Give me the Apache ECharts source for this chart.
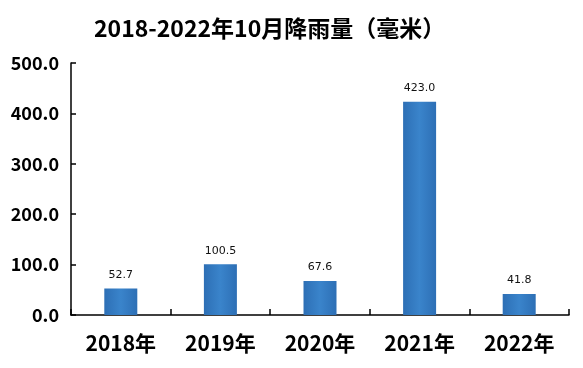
<!DOCTYPE html>
<html>
<head>
<meta charset="utf-8">
<script src="https://cdn.jsdelivr.net/npm/echarts@6/dist/echarts.min.js"></script>
<style>html,body{margin:0;padding:0;background:#fff}#c{width:583px;height:368px}</style>
</head>
<body>
<div id="c"></div>
<script>
const titleText = '2018-2022年10月降雨量（毫米）';
const categories = ['2018年', '2019年', '2020年', '2021年', '2022年'];
const rainfall = [52.7, 100.5, 67.6, 423.0, 41.8];
const yTicks = [0, 100, 200, 300, 400, 500];

const chart = echarts.init(document.getElementById('c'), null, {renderer: 'canvas'});
chart.setOption({
  animation: false,
  backgroundColor: '#ffffff',
  title: {
    text: titleText,
    left: 89,
    top: 12,
    textStyle: {
      fontFamily: 'Noto Sans CJK SC',
      fontWeight: 'bold',
      fontSize: 23,
      color: '#000000'
    }
  },
  grid: {left: 71, right: 14, top: 63, bottom: 53, containLabel: false},
  xAxis: {
    type: 'category',
    data: categories,
    axisLine: {show: true, lineStyle: {color: '#000000', width: 1.5}},
    axisTick: {show: true, inside: true, length: 6, alignWithLabel: false, lineStyle: {color: '#000000', width: 1.5}},
    axisLabel: {
      margin: 18,
      fontFamily: 'Noto Sans CJK SC',
      fontWeight: 'bold',
      fontSize: 21,
      color: '#000000'
    },
    splitLine: {show: false}
  },
  yAxis: {
    type: 'value',
    min: yTicks[0],
    max: yTicks[yTicks.length - 1],
    interval: yTicks[1] - yTicks[0],
    axisLine: {show: true, lineStyle: {color: '#000000', width: 1.5}},
    axisTick: {show: true, inside: true, length: 5, lineStyle: {color: '#000000', width: 1.5}},
    axisLabel: {
      margin: 12,
      fontFamily: 'Noto Sans CJK SC',
      fontWeight: 'bold',
      fontSize: 18,
      color: '#000000',
      formatter: v => v.toFixed(1)
    },
    splitLine: {show: false}
  },
  series: [{
    type: 'bar',
    data: rainfall,
    barWidth: 33,
    itemStyle: {
      color: {
        type: 'linear', x: 0, y: 0, x2: 1, y2: 0,
        colorStops: [
          {offset: 0, color: '#2D6FB5'},
          {offset: 0.5, color: '#3A84CB'},
          {offset: 1, color: '#2D6FB5'}
        ]
      }
    },
    label: {
      show: true,
      position: 'top',
      distance: 8,
      fontFamily: 'DejaVu Sans',
      fontSize: 11,
      color: '#111111',
      formatter: p => p.value.toFixed(1)
    }
  }]
});
</script>
</body>
</html>
